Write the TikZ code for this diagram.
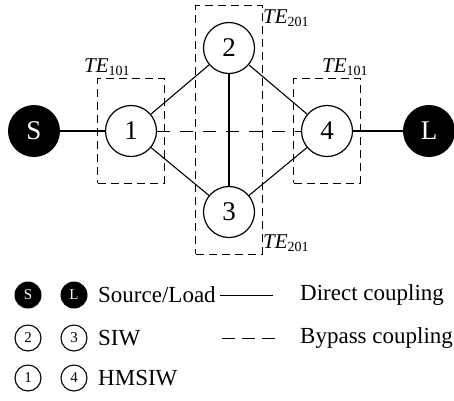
\documentclass[tikz,border=0pt]{standalone}
\usepackage{fontspec}
\setmainfont{Liberation Serif}
\usetikzlibrary{positioning,fit}

\tikzset{
  res/.style={draw, circle, fill=white, line width=1.2pt, minimum size=51pt, inner sep=0pt, font=\fontsize{27}{27}\selectfont},
  port/.style={circle, fill=black, text=white, minimum size=52pt, inner sep=0pt, font=\fontsize{27}{27}\selectfont},
  resmini/.style={draw, circle, line width=1.1pt, minimum size=26pt, inner sep=0pt, font=\fontsize{15}{15}\selectfont},
  portmini/.style={circle, fill=black, text=white, minimum size=27pt, inner sep=0pt, font=\fontsize{15}{15}\selectfont},
  grp/.style={draw, line width=1pt, dash pattern=on 8pt off 5pt},
  cpl/.style={line width=1.1pt},
  bypass/.style={line width=1pt, dash pattern=on 13pt off 10pt},
  telabel/.style={anchor=west, inner sep=0pt, font=\fontsize{21}{21}\selectfont},
  legtext/.style={anchor=west, inner sep=0pt, font=\fontsize{23}{23}\selectfont}
}
\newcommand{\temode}[1]{\textit{TE}\raisebox{-0.25ex}{\fontsize{14}{14}\selectfont #1}}

\begin{document}
\begin{tikzpicture}[x=1pt,y=-1pt]
  \useasboundingbox (0,0) rectangle (454,400);

  %% Source and load
  \node[port] (src) at (34,131) {S};
  \node[port] (load) at (429,131) {L};

  %% Resonators
  \node[res] (r1) at (131,131) {1};
  \node[res] (r2) at (229,48) {2};
  \node[res] (r3) at (229,212) {3};
  \node[res] (r4) at (327,131) {4};

  %% Mode groups
  \node[grp, fit=(r1), inner xsep=7pt, inner ysep=26pt] (g1) {};
  \node[grp, fit=(r4), inner xsep=7pt, inner ysep=26pt] (g4) {};
  \node[grp, fit=(r2)(r3), inner xsep=7pt, inner ysep=16pt] (g23) {};

  \node[telabel] (te1) at (84,67) {\temode{101}};
  \node[telabel] (te4) at (322,67) {\temode{101}};
  \node[telabel] (te2) at (263,18) {\temode{201}};
  \node[telabel] (te3) at (263,243) {\temode{201}};

  %% Couplings
  \draw[cpl] (src) -- (r1);
  \draw[cpl] (r1) -- (r2);
  \draw[cpl] (r1) -- (r3);
  \draw[cpl] (r2) -- (r3);
  \draw[cpl] (r2) -- (r4);
  \draw[cpl] (r3) -- (r4);
  \draw[cpl] (r4) -- (load);
  \draw[bypass] (r1) -- (r4);

  %% Legend
  \node[portmini] (ls) at (28,295) {S};
  \node[portmini] (ll) at (74,295) {L};
  \node[legtext] (lsrc) at (98,295) {Source/Load};
  \node[resmini] (l2) at (28,338) {2};
  \node[resmini] (l3) at (74,338) {3};
  \node[legtext] (lsiw) at (98,338) {SIW};
  \node[resmini] (l1) at (28,378) {1};
  \node[resmini] (l4) at (74,378) {4};
  \node[legtext] (lhm) at (98,378) {HMSIW};

  \coordinate (da) at (220,295);
  \coordinate (db) at (273,295);
  \draw[line width=1pt] (da) -- (db);
  \node[legtext] (ldir) at (300,295) {Direct coupling};

  \coordinate (ba) at (222,338);
  \coordinate (bb) at (275,338);
  \draw[line width=1pt, dash pattern=on 13pt off 7pt] (ba) -- (bb);
  \node[legtext] (lbyp) at (300,338) {Bypass coupling};
\end{tikzpicture}
\end{document}
